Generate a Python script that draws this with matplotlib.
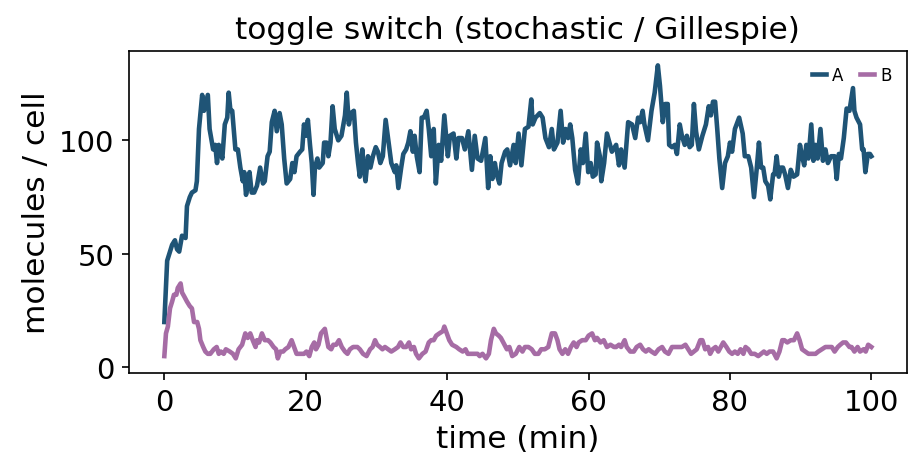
import matplotlib
matplotlib.use("Agg")
import matplotlib.pyplot as plt

# time (min) and molecule counts
t_a = [
    0.0, 0.2, 0.4, 0.8, 1.1, 1.5, 1.8, 2.1, 2.5, 3.0, 3.2, 3.6, 3.9, 4.4, 4.6,
    4.9, 5.35, 5.6, 6.15, 6.4, 6.9, 7.2, 7.45, 7.7, 8.2, 8.55, 8.9, 9.1, 9.35, 9.6,
    10.05, 10.4, 10.75, 11.1, 11.3, 11.55, 11.8, 12.05, 12.35, 12.7, 13.1, 13.55, 13.95, 14.2, 14.6,
    14.9, 15.2, 15.6, 15.9, 16.3, 16.6, 16.95, 17.3, 17.8, 18.1, 18.4, 18.7, 19.2, 19.5, 19.75,
    20.05, 20.3, 20.6, 20.85, 21.1, 21.3, 21.65, 21.9, 22.4, 22.6, 22.95, 23.2, 23.5, 23.8, 24.1,
    24.6, 25.05, 25.55, 25.8, 26.1, 26.4, 26.8, 27.1, 27.4, 27.65, 28.0, 28.2, 28.45, 28.8, 29.15,
    29.5, 29.9, 30.2, 30.55, 30.9, 31.3, 31.6, 32.1, 32.6, 32.8, 33.1, 33.5, 33.8, 34.2, 34.5,
    34.8, 35.15, 35.4, 35.7, 36.1, 36.4, 36.7, 37.1, 37.4, 37.75, 38.1, 38.4, 38.8, 39.15, 39.6,
    40.1, 40.4, 40.9, 41.3, 41.6, 42.1, 42.5, 43.0, 43.5, 43.9, 44.3, 44.8, 45.4, 45.8, 46.1,
    46.4, 46.75, 47.0, 47.4, 47.7, 48.2, 48.5, 48.9, 49.4, 49.7, 50.1, 50.5, 51.0, 51.5, 51.9,
    52.1, 52.5, 53.1, 53.5, 53.9, 54.4, 54.8, 55.1, 55.6, 56.05, 56.4, 56.75, 57.1, 57.4, 57.7,
    58.1, 58.5, 58.9, 59.2, 59.6, 59.95, 60.3, 60.6, 61.0, 61.2, 61.6, 61.8, 62.2, 62.6, 62.95,
    63.3, 63.9, 64.3, 64.6, 65.1, 65.6, 66.15, 66.6, 67.0, 67.3, 67.65, 67.9, 68.4, 68.9, 69.35,
    69.8, 70.1, 70.5, 70.85, 71.2, 71.4, 71.8, 72.2, 72.5, 72.9, 73.2, 73.6, 73.9, 74.3, 74.6,
    74.9, 75.2, 75.6, 76.1, 76.6, 77.0, 77.3, 77.6, 77.9, 78.2, 78.5, 78.9, 79.3, 79.7, 80.0,
    80.3, 80.7, 81.3, 81.8, 82.1, 82.6, 83.0, 83.4, 83.8, 84.1, 84.4, 84.7, 85.0, 85.4, 85.7,
    86.1, 86.3, 86.6, 86.9, 87.2, 87.5, 87.8, 88.2, 88.6, 89.0, 89.5, 89.9, 90.2, 90.5, 90.8,
    91.1, 91.5, 91.8, 92.1, 92.4, 92.8, 93.15, 93.5, 93.85, 94.3, 94.8, 95.1, 95.4, 95.7, 96.1,
    96.5, 96.9, 97.4, 97.6, 97.9, 98.4, 98.7, 98.9, 99.15, 99.5, 99.8, 100.0,
]
mol_a = [
    20, 34, 47, 51, 54, 56, 52, 51, 58, 57, 71, 75, 77, 78, 82,
    105, 120, 113, 120, 105, 96, 98, 90, 98, 92, 107, 110, 121, 113, 113,
    96, 96, 88, 82, 86, 76, 80, 86, 77, 77, 80, 88, 81, 82, 93,
    95, 108, 113, 104, 112, 107, 92, 81, 83, 90, 86, 93, 95, 96, 107,
    102, 109, 98, 90, 76, 88, 92, 88, 90, 99, 99, 93, 99, 115, 105,
    100, 102, 111, 121, 107, 112, 113, 99, 90, 84, 96, 88, 82, 93, 88,
    93, 97, 95, 90, 93, 109, 102, 90, 86, 89, 79, 88, 94, 96, 99,
    104, 95, 102, 93, 86, 110, 110, 113, 105, 93, 105, 81, 98, 91, 111,
    93, 102, 103, 92, 101, 101, 96, 104, 87, 102, 92, 91, 101, 79, 93,
    83, 90, 85, 81, 90, 95, 96, 89, 98, 90, 103, 89, 105, 106, 118,
    107, 110, 112, 110, 101, 97, 105, 96, 99, 113, 99, 105, 101, 107, 101,
    87, 81, 96, 90, 103, 86, 90, 84, 85, 99, 93, 82, 90, 103, 99,
    95, 98, 89, 96, 88, 108, 107, 101, 110, 108, 113, 107, 100, 113, 121,
    133, 124, 108, 116, 116, 98, 97, 98, 94, 107, 102, 98, 102, 97, 98,
    116, 104, 96, 102, 107, 115, 111, 117, 117, 105, 92, 79, 90, 93, 99,
    95, 105, 110, 103, 93, 93, 88, 75, 88, 99, 88, 88, 82, 80, 74,
    85, 85, 93, 84, 88, 88, 85, 79, 87, 84, 85, 98, 93, 89, 98,
    92, 107, 91, 98, 92, 105, 91, 96, 90, 93, 93, 83, 94, 92, 101,
    114, 113, 123, 113, 110, 107, 96, 96, 86, 94, 94, 93,
]

t_b = [
    0.0, 0.23, 0.5, 0.8, 1.1, 1.36, 1.7, 1.9, 2.3, 2.5, 2.86, 3.2, 3.6, 3.9, 4.2,
    4.65, 4.9, 5.1, 5.5, 5.8, 6.15, 6.5, 7.0, 7.4, 7.7, 8.0, 8.4, 8.7, 9.25, 9.7,
    10.1, 10.5, 11.0, 11.45, 11.8, 12.15, 12.5, 12.9, 13.1, 13.4, 13.8, 14.2, 14.65, 15.0, 15.45,
    15.8, 16.05, 16.4, 16.8, 17.1, 17.55, 18.0, 18.35, 18.7, 19.3, 19.75, 20.1, 20.5, 20.85, 21.2,
    21.45, 21.8, 22.15, 22.7, 23.2, 23.6, 23.9, 24.3, 24.7, 25.1, 25.55, 25.9, 26.25, 26.7, 27.3,
    27.65, 28.1, 28.6, 29.1, 29.45, 29.8, 30.1, 30.5, 30.85, 31.2, 31.65, 32.1, 32.6, 33.05, 33.4,
    33.8, 34.2, 34.6, 34.9, 35.3, 35.6, 36.0, 36.5, 36.95, 37.4, 37.75, 38.1, 38.45, 38.9, 39.4,
    39.6, 39.95, 40.3, 40.7, 41.3, 41.7, 42.2, 42.6, 42.9, 43.4, 43.9, 44.3, 44.6, 45.0, 45.5,
    45.9, 46.2, 46.6, 46.9, 47.3, 47.6, 48.1, 48.45, 48.8, 49.2, 49.7, 50.2, 50.65, 51.0, 51.5,
    51.96, 52.4, 52.9, 53.3, 53.8, 54.3, 54.8, 55.25, 55.6, 55.9, 56.3, 56.7, 57.1, 57.5, 57.9,
    58.3, 58.6, 59.1, 59.6, 60.0, 60.5, 60.9, 61.2, 61.7, 62.15, 62.6, 63.1, 63.6, 63.9, 64.3,
    64.6, 65.1, 65.4, 65.9, 66.4, 66.8, 67.3, 67.7, 68.1, 68.5, 68.9, 69.4, 69.9, 70.4, 70.8,
    71.3, 71.8, 72.2, 72.7, 73.2, 73.7, 74.1, 74.5, 74.9, 75.3, 75.8, 76.1, 76.5, 76.9, 77.2,
    77.55, 77.97, 78.35, 78.7, 79.05, 79.5, 79.9, 80.3, 80.7, 81.1, 81.5, 81.9, 82.2, 82.6, 83.0,
    83.5, 84.0, 84.4, 84.8, 85.2, 85.6, 86.1, 86.6, 87.0, 87.4, 87.7, 88.1, 88.6, 89.05, 89.5,
    89.85, 90.2, 90.65, 91.1, 91.6, 92.1, 92.5, 93.0, 93.5, 93.9, 94.4, 94.8, 95.25, 95.6, 96.0,
    96.4, 96.9, 97.2, 97.6, 98.05, 98.4, 98.9, 99.2, 99.55, 100.0,
]
mol_b = [
    5, 15, 18, 26, 29, 32, 32, 35, 37, 33, 31, 29, 27, 26, 20,
    20, 17, 12, 9, 7, 6, 6, 8, 9, 6, 7, 6, 8, 7, 6,
    4, 8, 10, 15, 13, 15, 12, 9, 12, 11, 15, 12, 12, 11, 9,
    8, 4, 7, 7, 8, 9, 12, 9, 6, 6, 6, 7, 5, 9, 11,
    8, 10, 15, 17, 9, 8, 10, 10, 12, 9, 7, 6, 8, 9, 9,
    8, 6, 5, 8, 9, 12, 10, 9, 8, 9, 8, 7, 8, 9, 11,
    9, 9, 11, 8, 9, 6, 4, 6, 7, 11, 12, 12, 14, 15, 16,
    18, 15, 12, 10, 9, 8, 7, 8, 6, 6, 6, 6, 5, 6, 4,
    6, 12, 17, 15, 14, 13, 10, 8, 9, 5, 6, 9, 7, 9, 9,
    8, 6, 6, 8, 8, 9, 15, 15, 12, 8, 6, 8, 6, 9, 11,
    9, 11, 12, 12, 14, 15, 12, 13, 11, 12, 9, 10, 9, 9, 10,
    9, 12, 9, 7, 7, 9, 10, 8, 7, 8, 7, 6, 8, 9, 7,
    6, 9, 9, 9, 9, 10, 8, 6, 7, 8, 12, 12, 8, 9, 6,
    8, 9, 7, 9, 11, 9, 7, 6, 7, 6, 8, 6, 9, 8, 6,
    6, 5, 6, 7, 6, 7, 7, 4, 7, 12, 12, 11, 12, 12, 15,
    12, 8, 7, 6, 6, 6, 7, 8, 9, 9, 9, 7, 9, 10, 11,
    11, 9, 9, 7, 9, 7, 8, 7, 10, 9,
]

COLOR_A = "#1f5476"
COLOR_B = "#a66ca5"

fig = plt.figure(figsize=(6.16, 3.153), dpi=150)
ax = fig.add_axes([0.1396, 0.2093, 0.8417, 0.6814])

ax.plot(t_a, mol_a, color=COLOR_A, lw=2.2, label="A")
ax.plot(t_b, mol_b, color=COLOR_B, lw=2.2, label="B")

ax.set_title("toggle switch (stochastic / Gillespie)", fontsize=15)
ax.set_xlabel("time (min)", fontsize=15)
ax.set_ylabel("molecules / cell", fontsize=15)
ax.tick_params(labelsize=14)
ax.set_yticks([0, 50, 100])

ax.legend(loc="upper right", frameon=False, fontsize=8, ncol=2,
          handlelength=0.8, handletextpad=0.4, columnspacing=1.0)

fig.savefig("out.png", dpi=150)
